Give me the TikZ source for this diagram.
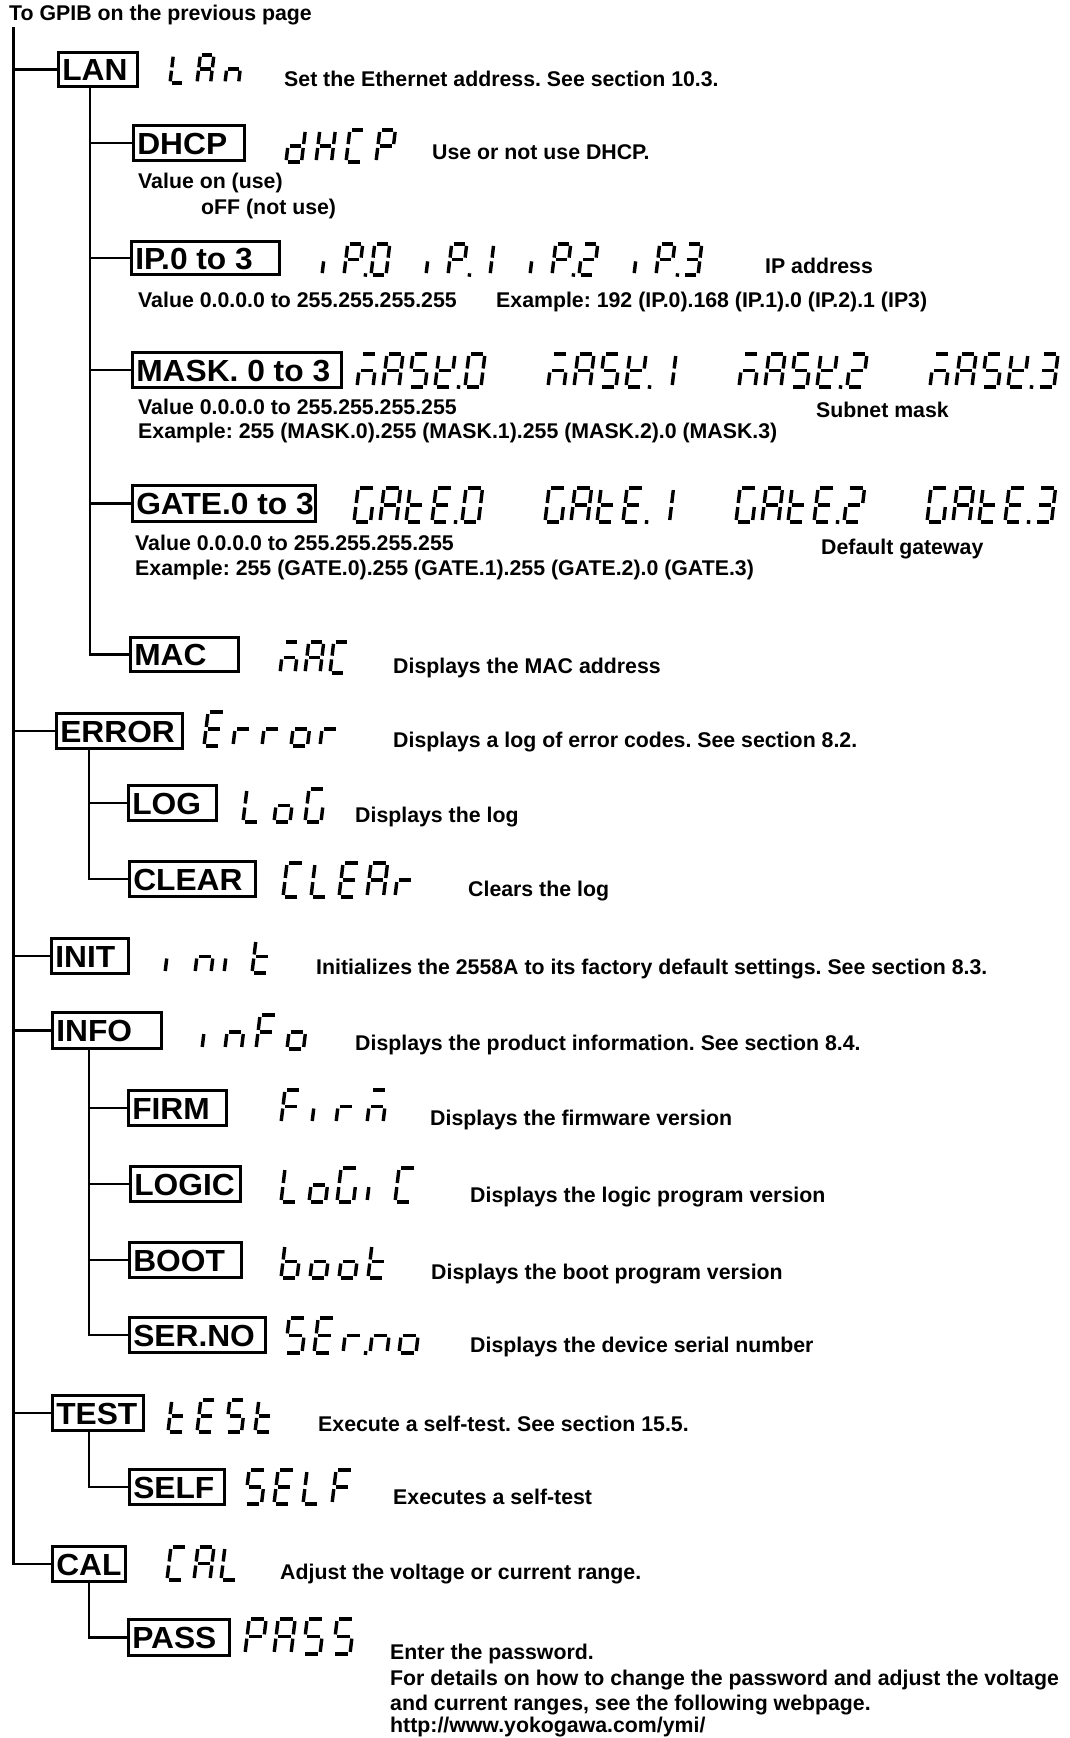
\documentclass[tikz,border=0pt]{standalone}
\usepackage{fontspec}
\setmainfont{Liberation Sans}
\newfontfamily\lblfam{Liberation Sans}[FakeStretch=1.04]
\newcommand\descf{\fontsize{21.3}{25}\selectfont\bfseries\frenchspacing}
\newcommand\lblf{\lblfam\fontsize{30.5}{34}\selectfont\bfseries}
% seven-segment geometry (local units, y down, cell 16 x 33)
\def\spa{(2,0)--(14,0)}
\def\spb{(16,2)--(16,14.5)}
\def\spc{(16,18.5)--(16,31)}
\def\spd{(2,33)--(14,33)}
\def\spe{(0,18.5)--(0,31)}
\def\spf{(0,2)--(0,14.5)}
\def\spg{(2,16.5)--(14,16.5)}
\def\spp{(1.5,31.2)--(1.5,34.8)}
\newcommand\defch[2]{\expandafter\def\csname zch#1\endcsname{#2}}
\defch{L}{f,e,d}
\defch{A}{a,b,c,e,f,g}
\defch{n}{c,e,g}
\defch{d}{b,c,d,e,g}
\defch{H}{b,c,e,f,g}
\defch{C}{a,f,e,d}
\defch{P}{a,b,f,g,e}
\defch{i}{e}
\defch{0}{a,b,c,d,e,f}
\defch{1}{b,c}
\defch{2}{a,b,g,e,d}
\defch{3}{a,b,g,c,d}
\defch{m}{a,c,e,g}
\defch{S}{a,f,g,c,d}
\defch{k}{b,d,e,f,g}
\defch{G}{a,f,e,d,c}
\defch{t}{f,e,g,d}
\defch{E}{a,f,g,e,d}
\defch{r}{e,g}
\defch{o}{c,d,e,g}
\defch{F}{a,f,g,e}
\defch{b}{f,e,d,c,g}
\defch{p}{p}
\newcommand\sevc[4]{%
  \begin{scope}[shift={({#1+0.12*#3},#2)},xslant=0.12,scale=#3/33]
    \edef\seglist{\csname zch#4\endcsname}%
    \foreach \sgn in \seglist {\edef\tmpd{\noexpand\draw[seg] \csname sp\sgn\endcsname;}\tmpd}
  \end{scope}}
\newcommand\sevw[3]{\foreach \xx/\cc in {#3}{\sevc{\xx}{#1}{#2}{\cc}}}
\newcommand\bx[6]{%
  \pgfmathsetmacro\bxw{#4-#2-2.6}%
  \pgfmathsetmacro\bxh{#5-#3-2.6}%
  \pgfmathsetmacro\bxt{\bxw-8}%
  \node[box, minimum width=\bxw pt, minimum height=\bxh pt] (#1) at ({(#2+#4)/2},{(#3+#5)/2}) {\makebox[\bxt pt][l]{\raisebox{-0.8pt}[\height][0pt]{#6}}};}
\begin{document}
\begin{tikzpicture}[x=1pt,y=-1pt,
  ln/.style={line width=2.5pt},
  box/.style={draw, line width=2.6pt, inner xsep=3.5pt, inner ysep=0pt, outer sep=0pt, font=\lblf},
  seg/.style={line width=3.4pt},
  dsc/.style={anchor=base west, inner sep=0pt, font=\descf}]
\useasboundingbox (0,0) rectangle (1070,1738);

\node[dsc] (title) at (9,20) {To GPIB on the previous page};

% boxes
\bx{lan}{57}{51}{139}{88}{LAN}
\bx{dhcp}{132}{124}{246}{162}{DHCP}
\bx{ip}{130}{240}{281}{276}{IP.0 to 3}
\bx{mask}{131}{351}{343}{389}{MASK. 0 to 3}
\bx{gate}{131}{484}{317}{523}{GATE.0 to 3}
\bx{mac}{129}{636}{240}{673}{MAC}
\bx{error}{55}{712}{184}{750}{ERROR}
\bx{log}{127}{784}{218}{822}{LOG}
\bx{clear}{128}{860}{257}{898}{CLEAR}
\bx{init}{50}{937}{130}{975}{INIT}
\bx{info}{51}{1011}{163}{1050}{INFO}
\bx{firm}{127}{1089}{228}{1127}{FIRM}
\bx{logic}{129}{1165}{242}{1203}{LOGIC}
\bx{boot}{128}{1241}{243}{1279}{BOOT}
\bx{serno}{128}{1316}{267}{1354}{SER.NO}
\bx{test}{51}{1394}{145}{1432}{TEST}
\bx{self}{128}{1468}{226}{1506}{SELF}
\bx{cal}{51}{1545}{127}{1583}{CAL}
\bx{pass}{127}{1618}{231}{1657}{PASS}

% connectors
\coordinate (top) at (13.5,27);
\draw[ln] (top) |- (cal.west);
\foreach \n in {lan,error,init,info,test} \draw[ln] (\n.west) -- (\n.west -| top);
\coordinate (lant) at (90,88);
\draw[ln] (lant) |- (mac.west);
\foreach \n in {dhcp,ip,mask,gate} \draw[ln] (\n.west) -- (\n.west -| lant);
\coordinate (errt) at (89,750);
\draw[ln] (errt) |- (clear.west);
\draw[ln] (log.west) -- (log.west -| errt);
\coordinate (infot) at (89,1050);
\draw[ln] (infot) |- (serno.west);
\foreach \n in {firm,logic,boot} \draw[ln] (\n.west) -- (\n.west -| infot);
\coordinate (testt) at (89,1432);
\draw[ln] (testt) |- (self.west);
\coordinate (calt) at (89,1583);
\draw[ln] (calt) |- (pass.west);

% seven-segment readouts
\sevw{55}{28}{170/L,197/A,225/n}
\sevw{130}{32}{286/d,316/H,346/C,376/P}
\sevw{244}{31}{322/i,344/P,364/p,371/0, 426/i,448/P,468/p,475/1, 530/i,552/P,572/p,579/2, 634/i,656/P,676/p,683/3}
\sevw{354}{33}{357/m,383/A,409/S,435/k,457/p,465/0, 548/m,574/A,600/S,626/k,648/p,656/1, 739/m,765/A,791/S,817/k,839/p,847/2, 930/m,956/A,982/S,1008/k,1030/p,1038/3}
\sevw{488}{34}{354/G,380/A,406/t,432/E,454/p,462/0, 545/G,571/A,597/t,623/E,645/p,653/1, 736/G,762/A,788/t,814/E,836/p,844/2, 927/G,953/A,979/t,1005/E,1027/p,1035/3}
\sevw{642}{31}{280/m,305/A,330/C}
\sevw{712}{34}{204/E,233/r,262/r,291/o,320/r}
\sevw{789}{33}{243/L,274/o,305/G}
\sevw{863}{34}{283/C,311/L,339/E,367/A,395/r}
\sevw{940}{33}{165/i,195/n,224/i,252/t}
\sevw{1015}{34}{202/i,225/n,256/F,287/o}
\sevw{1090}{33}{281/F,312/i,336/r,367/m}
\sevw{1168}{34}{281/L,309/o,337/G,367/i,395/C}
\sevw{1245}{33}{281/b,310/o,339/o,368/t}
\sevw{1318}{35}{285/S,314/E,343/r,364/p,370/n,399/o}
\sevw{1400}{32}{168/t,197/E,226/S,255/t}
\sevw{1470}{34}{245/S,274/E,303/L,332/F}
\sevw{1547}{33}{167/C,194/A,221/L}
\sevw{1619}{35}{245/P,274/A,303/S,333/S}

% descriptions
\node[dsc] (d1) at (284,86) {Set the Ethernet address. See section 10.3.};
\node[dsc] (d2) at (432,159) {Use or not use DHCP.};
\node[dsc] (d3) at (138,188) {Value on (use)};
\node[dsc] (d4) at (201,214) {oFF (not use)};
\node[dsc] (d5) at (765,273) {IP address};
\node[dsc] (d6) at (138,307) {Value 0.0.0.0 to 255.255.255.255};
\node[dsc] (d7) at (496,307) {Example: 192 (IP.0).168 (IP.1).0 (IP.2).1 (IP3)};
\node[dsc] (d8) at (138,414) {Value 0.0.0.0 to 255.255.255.255};
\node[dsc] (d9) at (816,417) {Subnet mask};
\node[dsc] (d10) at (138,438) {Example: 255 (MASK.0).255 (MASK.1).255 (MASK.2).0 (MASK.3)};
\node[dsc] (d11) at (135,550) {Value 0.0.0.0 to 255.255.255.255};
\node[dsc] (d12) at (821,554) {Default gateway};
\node[dsc] (d13) at (135,575) {Example: 255 (GATE.0).255 (GATE.1).255 (GATE.2).0 (GATE.3)};
\node[dsc] (d14) at (393,673) {Displays the MAC address};
\node[dsc] (d15) at (393,747) {Displays a log of error codes. See section 8.2.};
\node[dsc] (d16) at (355,822) {Displays the log};
\node[dsc] (d17) at (468,896) {Clears the log};
\node[dsc] (d18) at (316,974) {Initializes the 2558A to its factory default settings. See section 8.3.};
\node[dsc] (d19) at (355,1050) {Displays the product information. See section 8.4.};
\node[dsc] (d20) at (430,1125) {Displays the firmware version};
\node[dsc] (d21) at (470,1202) {Displays the logic program version};
\node[dsc] (d22) at (431,1279) {Displays the boot program version};
\node[dsc] (d23) at (470,1352) {Displays the device serial number};
\node[dsc] (d24) at (318,1431) {Execute a self-test. See section 15.5.};
\node[dsc] (d25) at (393,1504) {Executes a self-test};
\node[dsc] (d26) at (280,1579) {Adjust the voltage or current range.};
\node[dsc] (d27) at (390,1659) {Enter the password.};
\node[dsc] (d28) at (390,1685) {For details on how to change the password and adjust the voltage};
\node[dsc] (d29) at (390,1710) {and current ranges, see the following webpage.};
\node[dsc] (d30) at (390,1732) {http://www.yokogawa.com/ymi/};
\end{tikzpicture}
\end{document}
